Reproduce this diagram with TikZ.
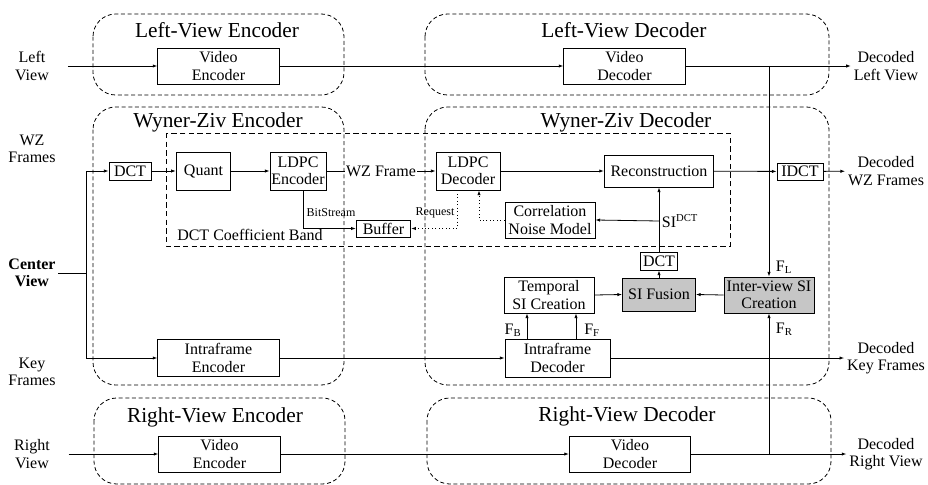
\documentclass[tikz,border=0pt]{standalone}
\usepackage{fontspec}
\setmainfont{Liberation Serif}
\usetikzlibrary{positioning, arrows.meta, calc}

\begin{document}
\begin{tikzpicture}[
    x=0.75pt, y=-0.75pt,
    block/.style={
        rectangle,
        draw=black,
        fill=white,
        line width=0.6pt,
        align=center,
        inner sep=1pt,
        font=\fontsize{12}{13}\selectfont
    },
    shaded/.style={
        block,
        fill=gray!45
    },
    group/.style={
        draw=black,
        line width=0.6pt,
        dash pattern=on 3pt off 2pt,
        rounded corners=17pt
    },
    band/.style={
        draw=black,
        line width=0.6pt,
        dash pattern=on 4pt off 2.5pt
    },
    group_title/.style={
        font=\fontsize{16}{18}\selectfont
    },
    io_text/.style={
        align=center,
        inner sep=2pt,
        font=\fontsize{12}{13}\selectfont
    },
    small_text/.style={
        font=\fontsize{9}{10}\selectfont,
        inner sep=1pt
    },
    arrow/.style={
        -{Latex[length=3.5pt, width=2.5pt]},
        line width=0.6pt
    },
    dotarrow/.style={
        arrow,
        dotted
    },
    plain/.style={
        line width=0.6pt
    }
]
    \useasboundingbox (0,0) rectangle (928,485);

    % -- Frames round the encoders and decoders --
    \draw[group] (93,14) rectangle (344,95);
    \draw[group] (425,14) rectangle (829,95);
    \draw[group] (93,107) rectangle (344,385);
    \draw[group] (425,107) rectangle (829,385);
    \draw[group] (94,398) rectangle (345,484);
    \draw[group] (427,398) rectangle (831,484);
    \draw[band] (166,133) rectangle (730,246);

    \node[group_title] (title_lve) at (217,30) {Left-View Encoder};
    \node[group_title] (title_lvd) at (624,30) {Left-View Decoder};
    \node[group_title] (title_wze) at (218,122) {Wyner-Ziv Encoder};
    \node[group_title] (title_wzd) at (626,122) {Wyner-Ziv Decoder};
    \node[group_title] (title_rve) at (215,417) {Right-View Encoder};
    \node[group_title] (title_rvd) at (627,416) {Right-View Decoder};
    \node[io_text] (band_label) at (250,235) {DCT Coefficient Band};

    % -- Inputs and outputs --
    \node[io_text] (left_in) at (32,66) {Left\\View};
    \node[io_text] (wz_in) at (32,149) {WZ\\Frames};
    \node[io_text, font=\fontsize{12}{13}\selectfont\bfseries] (center_in) at (32,273) {Center\\View};
    \node[io_text] (key_in) at (32,372) {Key\\Frames};
    \node[io_text] (right_in) at (32,454) {Right\\View};

    \node[io_text] (left_out) at (886,66) {Decoded\\Left View};
    \node[io_text] (wz_out) at (886,171) {Decoded\\WZ Frames};
    \node[io_text] (key_out) at (886,358) {Decoded\\Key Frames};
    \node[io_text] (right_out) at (886,454) {Decoded\\Right View};

    % -- Side views --
    \node[block, minimum width=91pt, minimum height=27pt] (venc_left) at (218.5,66) {Video\\Encoder};
    \node[block, minimum width=91pt, minimum height=27pt] (vdec_left) at (624.5,66) {Video\\Decoder};
    \node[block, minimum width=91pt, minimum height=27pt] (venc_right) at (219.5,454) {Video\\Encoder};
    \node[block, minimum width=91pt, minimum height=27pt] (vdec_right) at (630,454) {Video\\Decoder};

    % -- Wyner-Ziv path --
    \node[block, minimum width=31.5pt, minimum height=13.5pt] (dct) at (130,171) {DCT};
    \node[block, minimum width=41pt, minimum height=28.5pt] (quant) at (203.5,171) {Quant};
    \node[block, minimum width=40.5pt, minimum height=28.5pt] (ldpc_enc) at (298,171) {LDPC\\Encoder};
    \node[block, minimum width=48pt, minimum height=28.5pt] (ldpc_dec) at (468,171) {LDPC\\Decoder};
    \node[block, minimum width=82pt, minimum height=24pt] (recon) at (659,171) {Reconstruction};
    \node[block, minimum width=34.5pt, minimum height=12.75pt] (idct) at (800,171.5) {IDCT};
    \node[block, minimum width=41pt, minimum height=12.75pt] (buffer) at (383.5,228.5) {Buffer};
    \node[block, minimum width=67.5pt, minimum height=27pt] (noise) at (550,220) {Correlation\\Noise Model};

    % -- Side information --
    \node[block, minimum width=27.75pt, minimum height=13.5pt] (dct_si) at (659,261) {DCT};
    \node[shaded, minimum width=54.75pt, minimum height=24.75pt] (si_fusion) at (659,294.5) {SI Fusion};
    \node[block, minimum width=67.5pt, minimum height=27pt] (temporal) at (549,295) {Temporal\\SI Creation};
    \node[shaded, minimum width=67.5pt, minimum height=27pt] (interview) at (769,295) {Inter-view SI\\Creation};

    % -- Key frames --
    \node[block, minimum width=91pt, minimum height=27.75pt] (intra_enc) at (218.5,358) {Intraframe\\Encoder};
    \node[block, minimum width=78.75pt, minimum height=28.5pt] (intra_dec) at (557.5,358) {Intraframe\\Decoder};

    % Branch points
    \coordinate (split) at (86,273);
    \coordinate (split_top) at (86,171);
    \coordinate (split_bot) at (86,358);
    \coordinate (tap_left) at (769,66);
    \coordinate (tap_right) at (769,454);
    \coordinate (si_tap) at (659,221);

    % Side view arrows
    \draw[arrow, shorten <=12pt] (left_in.east) -- (venc_left.west);
    \draw[arrow] (venc_left) -- (vdec_left);
    \draw[arrow] (vdec_left) -- (left_out);
    \draw[arrow, shorten <=12pt] (right_in.east) -- (venc_right.west);
    \draw[arrow] (venc_right) -- (vdec_right);
    \draw[arrow] (vdec_right) -- (right_out);
    \draw[arrow] (tap_left) -- (interview.north);
    \draw[arrow] (tap_right) -- (interview.south);
    \node[io_text, above right=0pt and 3pt of interview.north] (f_left) {F\textsubscript{L}};
    \node[io_text, below right=5pt and 3pt of interview.south] (f_right) {F\textsubscript{R}};

    % Center view split
    \draw[plain] (center_in.east) -- (split);
    \draw[plain] (split_top) -- (split_bot);
    \draw[arrow] (split_top) -- (dct.west);
    \draw[arrow] (split_bot) -- (intra_enc.west);

    % Wyner-Ziv arrows
    \draw[arrow] (dct) -- (quant);
    \draw[arrow] (quant) -- (ldpc_enc);
    \draw[arrow] (ldpc_enc) -- node[io_text, fill=white, inner sep=1pt] (wz_label) {WZ Frame} (ldpc_dec);
    \draw[arrow] (ldpc_dec) -- (recon);
    \draw[arrow] (recon) -- (idct);
    \draw[arrow] (idct) -- (wz_out);

    \draw[arrow] ($(ldpc_enc.south)+(5,0)$) |- (buffer.west);
    \node[small_text] (bit_label) at (331,213) {BitStream};
    \draw[dotarrow] ($(ldpc_dec.south)+(-11,0)$) |- (buffer.east);
    \node[small_text] (req_label) at (435,213) {Request};
    \draw[dotarrow] (noise.west) -| ($(ldpc_dec.south)+(11,0)$);

    % SI arrows
    \draw[arrow] (dct_si.north) -- (recon.south);
    \draw[arrow] (si_tap) -- (noise.east);
    \node[io_text, anchor=west] (si_label) at (si_tap) {SI\textsuperscript{DCT}};
    \draw[arrow] (si_fusion.north) -- (dct_si.south);
    \draw[arrow] (temporal.east) -- (si_fusion.west);
    \draw[arrow] (interview.west) -- (si_fusion.east);

    % Key frame arrows
    \draw[arrow] (intra_enc) -- (intra_dec);
    \draw[arrow] (intra_dec) -- (key_out);
    \draw[arrow] ($(intra_dec.north)+(-30.5,0)$) -- ($(temporal.south)+(-22,0)$);
    \draw[arrow] ($(intra_dec.north)+(18.5,0)$) -- ($(temporal.south)+(27,0)$);
    \node[io_text] (f_back) at (513,330) {F\textsubscript{B}};
    \node[io_text] (f_fwd) at (592,330) {F\textsubscript{F}};

\end{tikzpicture}
\end{document}
